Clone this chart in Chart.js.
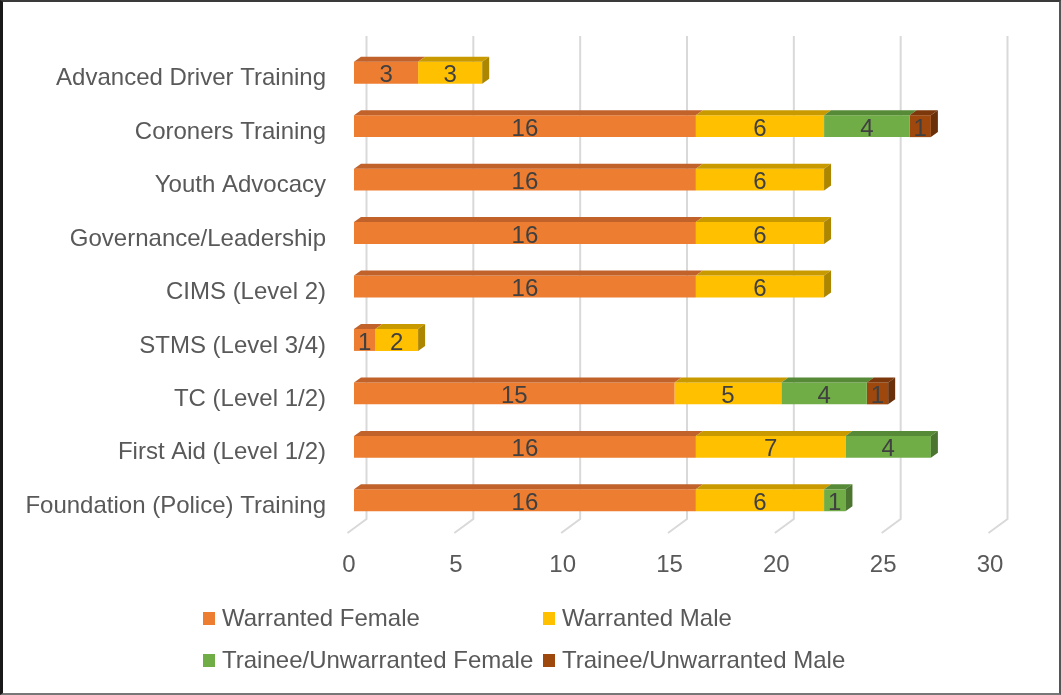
<!DOCTYPE html>
<html>
<head>
<meta charset="utf-8">
<script src="https://cdn.jsdelivr.net/npm/chart.js@4.4.1/dist/chart.umd.min.js"></script>
<style>
  html, body { margin: 0; padding: 0; background: #fff; }
  #wrap { position: relative; width: 1061px; height: 695px; overflow: hidden; font-family: "Liberation Sans", Arial, sans-serif; }
  #chart { position: absolute; left: 0; top: 0; }
  #frame { position: absolute; left: 0; top: 0; width: 1061px; height: 695px; box-sizing: border-box;
    border-top: 2px solid #3a3a3a; border-left: 3px solid #1a1a1a; border-right: 2px solid #555; border-bottom: 2px solid #777; pointer-events: none; }
  #legend { position: absolute; left: 203px; top: 604px; width: 700px; display: grid; grid-template-columns: 340px 340px; row-gap: 14px; }
  .item { display: flex; align-items: center; font-size: 24px; color: #595959; height: 28px; }
  .box { width: 12px; height: 13px; margin-right: 7px; }
</style>
</head>
<body>
<div id="wrap">
  <canvas id="chart" width="1061" height="695"></canvas>
  <div id="legend"></div>
  <div id="frame"></div>
</div>
<script>
// Chart data
const categories = [
    'Advanced Driver Training',
    'Coroners Training',
    'Youth Advocacy',
    'Governance/Leadership',
    'CIMS (Level 2)',
    'STMS (Level 3/4)',
    'TC (Level 1/2)',
    'First Aid (Level 1/2)',
    'Foundation (Police) Training'
];
const seriesNames = ['Warranted Female', 'Warranted Male', 'Trainee/Unwarranted Female', 'Trainee/Unwarranted Male'];
const warrantedFemale = [3, 16, 16, 16, 16, 1, 15, 16, 16];
const warrantedMale = [3, 6, 6, 6, 6, 2, 5, 7, 6];
const traineeFemale = [0, 4, 0, 0, 0, 0, 4, 4, 1];
const traineeMale = [0, 1, 0, 0, 0, 0, 1, 0, 0];
const xTicks = [0, 5, 10, 15, 20, 25, 30];

const frontColors = ['#ED7D31', '#FFC000', '#70AD47', '#9E480E'];
const topColors = ['#C0622A', '#C99A00', '#578A37', '#7C380B'];
const sideColors = ['#A8561F', '#AD8600', '#4B7530', '#6A300A'];

const DX = 7, DY = 5;
const FONT = '"Liberation Sans", Arial, sans-serif';

function poly(ctx, pts, color) {
    ctx.beginPath();
    ctx.moveTo(pts[0][0], pts[0][1]);
    for (let k = 1; k < pts.length; k++) ctx.lineTo(pts[k][0], pts[k][1]);
    ctx.closePath();
    ctx.fillStyle = color;
    ctx.fill();
}

// back-wall gridlines and 3D faces
const bar3d = {
    id: 'bar3d',
    beforeDatasetsDraw(chart) {
        const ctx = chart.ctx;
        const xs = chart.scales.x;
        const area = chart.chartArea;
        ctx.save();
        ctx.strokeStyle = '#d9d9d9';
        ctx.lineWidth = 2;
        xTicks.forEach(v => {
            const px = xs.getPixelForValue(v) + 12.5;
            ctx.beginPath();
            ctx.moveTo(px, area.top - 10);
            ctx.lineTo(px, area.bottom - 8);
            ctx.lineTo(px - 19, area.bottom + 6);
            ctx.stroke();
        });
        ctx.restore();
    },
    afterDatasetsDraw(chart) {
        const ctx = chart.ctx;
        const sets = chart.data.datasets;
        ctx.save();
        sets.forEach((ds, di) => {
            const meta = chart.getDatasetMeta(di);
            meta.data.forEach((bar, i) => {
                if (!ds.data[i]) return;
                const p = bar.getProps(['x', 'base', 'y', 'height'], true);
                const top = p.y - p.height / 2, bottom = p.y + p.height / 2;
                poly(ctx, [[p.base, top], [p.x, top], [p.x + DX, top - DY], [p.base + DX, top - DY]], topColors[di]);
                let last = true;
                for (let dj = di + 1; dj < sets.length; dj++) if (sets[dj].data[i]) last = false;
                if (last) {
                    poly(ctx, [[p.x, top], [p.x + DX, top - DY], [p.x + DX, bottom - DY], [p.x, bottom]], sideColors[di]);
                }
            });
        });
        // value labels
        ctx.font = '24px ' + FONT;
        ctx.fillStyle = '#404040';
        ctx.textAlign = 'center';
        ctx.textBaseline = 'middle';
        sets.forEach((ds, di) => {
            const meta = chart.getDatasetMeta(di);
            meta.data.forEach((bar, i) => {
                if (!ds.data[i]) return;
                const p = bar.getProps(['x', 'base', 'y'], true);
                ctx.fillText(String(ds.data[i]), (p.x + p.base) / 2, p.y + 3);
            });
        });
        ctx.restore();
    }
};

const seriesData = [warrantedFemale, warrantedMale, traineeFemale, traineeMale];

const ctx = document.getElementById('chart').getContext('2d');
new Chart(ctx, {
    type: 'bar',
    data: {
        labels: categories,
        datasets: seriesNames.map((name, k) => ({
            label: name,
            data: seriesData[k],
            backgroundColor: frontColors[k],
            borderWidth: 0,
            barPercentage: 0.41,
            categoryPercentage: 1
        }))
    },
    options: {
        indexAxis: 'y',
        responsive: false,
        animation: false,
        devicePixelRatio: 1,
        layout: { padding: { top: 46, right: 66, left: 0, bottom: 0 } },
        plugins: {
            legend: { display: false },
            tooltip: { enabled: false }
        },
        scales: {
            x: {
                stacked: true,
                min: 0,
                max: 30,
                grid: { display: false, drawTicks: false },
                border: { display: false },
                ticks: {
                    stepSize: 5,
                    padding: 24,
                    labelOffset: -5,
                    color: '#595959',
                    font: { family: FONT, size: 24 }
                },
                afterFit: scale => { scale.height = 168; }
            },
            y: {
                stacked: true,
                grid: { display: false, drawTicks: false },
                border: { display: false },
                ticks: {
                    padding: 28,
                    labelOffset: 6,
                    color: '#595959',
                    font: { family: FONT, size: 24 }
                },
                afterFit: scale => { scale.width = 354; }
            }
        }
    },
    plugins: [bar3d]
});

// legend in two columns
const legend = document.getElementById('legend');
seriesNames.forEach((name, k) => {
    const item = document.createElement('div');
    item.className = 'item';
    const box = document.createElement('span');
    box.className = 'box';
    box.style.background = frontColors[k];
    item.appendChild(box);
    item.appendChild(document.createTextNode(name));
    legend.appendChild(item);
});
</script>
</body>
</html>
